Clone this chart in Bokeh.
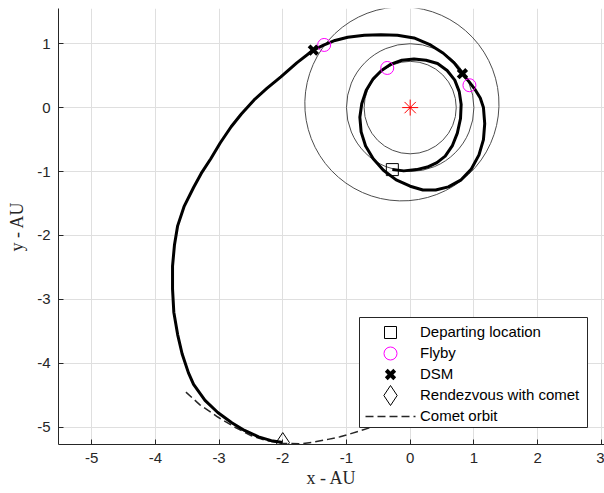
import numpy as np
from bokeh.plotting import figure
from bokeh.models import Range1d, Legend, LegendItem
from bokeh.embed import file_html
from bokeh.resources import INLINE

# ---- planetary orbits (Venus, Earth, Mars) ----
orbit_names = ["Venus", "Earth", "Mars"]
orbit_a = [0.723, 1.000, 1.524]          # semi-major axis, AU
orbit_e = [0.0, 0.0, 0.0934]             # eccentricity
orbit_peri_deg = [0.0, 0.0, 336.0]       # longitude of perihelion

# ---- spacecraft trajectory (AU) ----
traj_x = [-0.28, -0.10, 0.10, 0.27, 0.42, 0.55, 0.66, 0.74, 0.79, 0.80,
          0.77, 0.70, 0.58, 0.43, 0.25, 0.06, -0.13, -0.30, -0.45, -0.58,
          -0.69, -0.76, -0.79, -0.77, -0.70, -0.58, -0.42, -0.22, 0.00, 0.20,
          0.40, 0.60, 0.80, 0.96, 1.08, 1.15, 1.17, 1.15, 1.10, 1.02,
          0.92, 0.82, 0.69, 0.52, 0.30, 0.06, -0.20, -0.46, -0.72,
          -0.98, -1.18, -1.35, -1.52, -1.78, -2.03, -2.25, -2.45, -2.65, -2.81,
          -2.98, -3.13, -3.28, -3.40, -3.55, -3.65, -3.70, -3.73, -3.73, -3.71,
          -3.65, -3.58, -3.48, -3.40, -3.22, -3.02, -2.80, -2.60, -2.38, -2.18,
          -2.00]
traj_y = [-0.97, -0.99, -0.97, -0.93, -0.86, -0.76, -0.60, -0.40, -0.17, 0.05,
          0.25, 0.43, 0.58, 0.69, 0.74, 0.76, 0.74, 0.68, 0.58, 0.45,
          0.27, 0.06, -0.15, -0.38, -0.60, -0.80, -0.98, -1.13, -1.23, -1.29,
          -1.29, -1.24, -1.13, -0.96, -0.74, -0.50, -0.25, 0.00, 0.15, 0.28,
          0.41, 0.53, 0.70, 0.85, 0.99, 1.09, 1.13, 1.14, 1.13,
          1.10, 1.05, 0.98, 0.90, 0.70, 0.48, 0.30, 0.12, -0.10, -0.30,
          -0.55, -0.80, -1.03, -1.25, -1.55, -1.85, -2.15, -2.48, -2.84, -3.20,
          -3.55, -3.85, -4.15, -4.33, -4.58, -4.77, -4.93, -5.05, -5.15, -5.21,
          -5.24]

# ---- comet orbit (partial arc, dashed) ----
comet_x = [-3.52, -3.30, -3.02, -2.75, -2.50, -2.25, -2.00, -1.71, -1.50, -1.29,
           -1.10, -0.93, -0.61, -0.40, -0.10, 0.20]
comet_y = [-4.45, -4.65, -4.84, -5.00, -5.13, -5.21, -5.25, -5.26, -5.23, -5.19,
           -5.15, -5.10, -5.00, -4.92, -4.80, -4.65]

# ---- event markers ----
depart_x, depart_y = [-0.28], [-0.97]
flyby_x, flyby_y = [-0.36, 0.93, -1.35], [0.62, 0.35, 0.98]
dsm_x, dsm_y = [0.82, -1.52], [0.53, 0.90]
rdv_x, rdv_y = [-2.00], [-5.24]
sun_x, sun_y = [0.0], [0.0]

# ---- ticks ----
x_ticks = [-5, -4, -3, -2, -1, 0, 1, 2, 3]
x_tick_labels = ["-5", "-4", "-3", "-2", "-1", "0", "1", "2", "3"]
y_ticks = [-5, -4, -3, -2, -1, 0, 1]
y_tick_labels = ["-5", "-4", "-3", "-2", "-1", "0", "1"]

# ---- legend entries ----
legend_labels = ["Departing location", "Flyby", "DSM", "Rendezvous with comet", "Comet orbit"]

AXC = "#262626"
SANS = "Liberation Sans"
SERIF = "Liberation Serif"

W, H = 604, 493
BL, BR, BT, BB = 58, 0, 8, 49
FW, FH = W - BL - BR, H - BT - BB

p = figure(width=W, height=H, output_backend="svg", toolbar_location=None,
           x_range=Range1d(-5.52, 3.05), y_range=Range1d(-5.27, 1.55),
           min_border_left=BL, min_border_right=BR, min_border_top=BT,
           min_border_bottom=BB)
p.outline_line_color = None
p.background_fill_color = "white"
p.border_fill_color = "white"
# pixel-unit ranges over the frame, used only to place the legend box and symbols
p.extra_x_ranges = {"px": Range1d(0, FW)}
p.extra_y_ranges = {"py": Range1d(0, FH)}

# orbits
a = np.array(orbit_a)
e = np.array(orbit_e)
w = np.radians(orbit_peri_deg)
cx = -a * e * np.cos(w)
cy = -a * e * np.sin(w)
p.ellipse(x=cx, y=cy, width=2 * a, height=2 * a * np.sqrt(1 - e ** 2), angle=w,
          fill_color=None, line_color="#4d4d4d", line_width=1)

# comet orbit
comet_style = dict(line_color=AXC, line_width=1.5, line_dash="8 4")
r_comet = p.line(comet_x, comet_y, **comet_style)

# trajectory
p.line(traj_x, traj_y, line_color="black", line_width=3, line_join="round")

# sun
p.scatter(sun_x, sun_y, marker="asterisk", size=16, line_color="red", line_width=1)

# marker styles
dep_style = dict(marker="square", size=12, fill_color=None, line_color="black", line_width=1)
fly_style = dict(marker="circle", size=13, fill_color=None, line_color="#ff00ff", line_width=1)
dsm_style = dict(marker="x", size=12, line_color="black", line_width=4)
rdv_style = dict(marker="diamond", size=20, fill_color=None, line_color="black", line_width=1)

p.scatter(depart_x, depart_y, **dep_style)
p.scatter(flyby_x, flyby_y, **fly_style)
p.scatter(dsm_x, dsm_y, **dsm_style)
p.scatter(rdv_x, rdv_y, **rdv_style)

# axes
p.xaxis.ticker = x_ticks
p.yaxis.ticker = y_ticks
p.xaxis.major_label_overrides = {t: l for t, l in zip(x_ticks, x_tick_labels)}
p.yaxis.major_label_overrides = {t: l for t, l in zip(y_ticks, y_tick_labels)}
for ax in (p.xaxis, p.yaxis):
    ax.axis_line_color = AXC
    ax.major_tick_line_color = AXC
    ax.major_tick_in = 5
    ax.major_tick_out = 0
    ax.minor_tick_line_color = None
    ax.major_label_text_font = SANS
    ax.major_label_text_font_size = "15px"
    ax.major_label_text_color = AXC
    ax.axis_label_text_font = SERIF
    ax.axis_label_text_font_size = "18px"
    ax.axis_label_text_font_style = "normal"
    ax.axis_label_text_color = AXC
p.xaxis.axis_label = "x - AU"
p.yaxis.axis_label = "y - AU"
p.xaxis.major_label_standoff = 8
p.xaxis.axis_label_standoff = 2
p.yaxis.major_label_standoff = 8
p.yaxis.axis_label_standoff = 7

p.grid.grid_line_color = "#dfdfdf"
p.grid.grid_line_width = 1

# ---- legend: box and full-size symbols drawn in pixel units, texts by Bokeh's Legend ----
BOX_L, BOX_R, BOX_B, BOX_T = 301, 529, 17, 127
PAD, GW, ROW = 6, 50, 21
ROW0 = 112          # centre of the first legend row, px above the frame bottom
p.quad(left=[BOX_L], right=[BOX_R], bottom=[BOX_B], top=[BOX_T],
       x_range_name="px", y_range_name="py",
       fill_color="white", line_color=AXC, line_width=1)

sym_x = BOX_L + PAD + GW / 2
for i, st in enumerate([dep_style, fly_style, dsm_style, rdv_style]):
    p.scatter([sym_x], [ROW0 - i * ROW], x_range_name="px", y_range_name="py", **st)
cy_comet = ROW0 - 4 * ROW
p.line([BOX_L + PAD, BOX_L + PAD + GW], [cy_comet, cy_comet],
       x_range_name="px", y_range_name="py", **comet_style)

n_rows = len(legend_labels)
leg_h = n_rows * ROW + 2 * PAD
leg_y = int(round(ROW0 + ROW / 2 + PAD - leg_h)) + PAD
legend = Legend(items=[LegendItem(label=t, renderers=[]) for t in legend_labels],
                location=(BOX_L + PAD, leg_y))
legend.label_text_font = SANS
legend.label_text_font_size = "15px"
legend.label_text_color = "black"
legend.glyph_width = GW
legend.glyph_height = ROW
legend.label_height = ROW
legend.spacing = 0
legend.padding = PAD
legend.margin = 0
legend.label_standoff = 5
legend.border_line_color = None
legend.background_fill_alpha = 0.0
p.add_layout(legend)

open("out.html", "w").write(file_html(p, INLINE))
